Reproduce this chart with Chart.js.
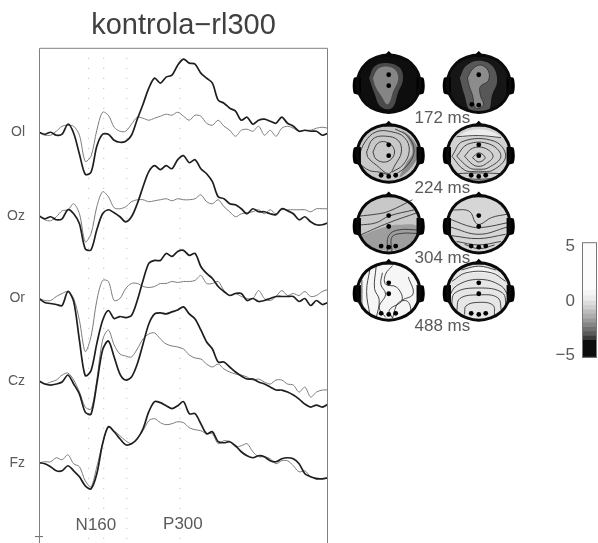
<!DOCTYPE html>
<html>
<head>
<meta charset="utf-8">
<title>kontrola-rl300</title>
<script src="https://cdn.jsdelivr.net/npm/chart.js@4/dist/chart.umd.min.js"></script>
<style>
  html, body { margin: 0; padding: 0; background: #fff; }
  #page { position: relative; width: 598px; height: 543px; overflow: hidden; }
  canvas { position: absolute; filter: blur(0.5px); }
</style>
</head>
<body>
<div id="page">
  <canvas id="wavesChart" width="335" height="566" style="left:0;top:0"></canvas>
  <canvas id="headsChart" width="190" height="310" style="left:340px;top:40px"></canvas>
  <canvas id="barChart" width="58" height="150" style="left:540px;top:225px"></canvas>
</div>
<script>
// time axis in ms
const times = [0,20,40,60,80,100,120,140,160,180,200,220,240,260,280,300,320,340,360,380,400,420,440,460,480,500,520,540,560,580,600,620,640,660,680,700,720,740,760,780,800,820,840,860,880,900,920,940,960,980,1000];
const channelNames = ['Ol','Oz','Or','Cz','Fz'];
const channelLevels = [410.7,327.3,244.7,162.3,80.7];
const markerTimes = [172,224,304,488];

// dark = thick trace, light = thin trace
const olDark = [0,-2,0,-3,-2,8,-1,-22,-42,-40,-14,-2,-2,-8,-10,-9,-3,13,28,44,54,49,55,57,67,73,69,68,59,54,49,32,29,24,21,12,15,8,12,13,11,9,15,9,6,1,2,1,1,-3,-1];
const olLight = [0,-3,-3,1,6,7,6,-3,-29,-24,2,20,17,5,1,1,8,15,14,12,14,16,18,17,20,16,12,17,16,9,7,12,6,2,-4,2,3,1,6,-3,2,-4,4,6,4,1,2,2,4,5,4];
const ozDark = [0,-3,-1,-4,-3,6,2,-8,-33,-34,-14,2,6,3,-1,-6,-1,12,29,44,50,46,50,47,56,60,53,56,47,42,34,19,17,12,11,7,2,7,4,4,2,1,7,5,2,-4,-1,-6,-9,-9,-7];
const ozLight = [0,-4,-5,-1,5,6,12,2,-26,-18,9,24,19,8,7,9,14,16,16,14,15,16,17,15,17,16,16,17,21,14,12,16,9,4,-1,2,3,4,6,2,6,2,6,6,6,6,6,4,7,7,7];
const orDark = [0,-4,-5,-6,-7,7,-3,-42,-77,-72,-45,-22,-12,-20,-18,-19,-17,-2,18,35,38,38,45,42,47,48,43,45,32,25,20,12,7,3,5,5,-2,0,-3,-2,0,2,2,2,2,-3,0,-7,-2,-6,-4];
const orLight = [0,-2,-2,2,5,7,0,-22,-53,-38,-2,18,17,-2,0,10,15,15,12,11,12,15,15,17,16,17,17,18,23,15,15,17,8,3,5,2,0,0,8,0,-2,2,8,3,5,3,7,2,3,7,9];
const czDark = [0,-3,-4,-3,-1,6,-3,-13,-31,-33,-3,31,40,24,7,1,4,17,37,57,67,68,67,69,71,74,67,62,51,39,32,19,19,14,9,5,2,2,-1,-3,-6,-9,-9,-11,-14,-18,-23,-26,-24,-26,-23];
const czLight = [1,-3,-1,1,6,8,1,-11,-26,-28,1,41,51,36,27,25,24,32,42,47,48,42,37,35,34,32,26,23,22,17,14,17,12,9,7,6,4,1,2,-1,-3,1,1,-3,-4,-11,-6,-16,-11,-9,-9];
const fzDark = [0,-1,-4,-8,-8,-3,-8,-14,-23,-26,-11,19,36,31,24,18,19,24,34,51,61,60,57,54,57,61,49,49,39,29,31,21,20,21,17,11,7,5,7,6,2,1,4,5,4,-1,-11,-14,-16,-16,-15];
const fzLight = [0,1,1,5,3,8,-1,-4,-18,-24,-4,19,36,32,27,22,19,24,32,42,44,40,38,39,41,40,35,33,32,29,29,19,22,21,16,17,19,11,6,6,4,-1,2,2,-3,-9,-8,-14,-15,-16,-15];

const darkTraces = [olDark,ozDark,orDark,czDark,fzDark];
const lightTraces = [olLight,ozLight,orLight,czLight,fzLight];

// colour bar
const barEdges = [-5.2,-3.6,-3.2,-2.8,-2.4,-2,-1.6,-1.2,-0.8,-0.4,0,0.5,1,5.4];
const barGrays = ['#0c0c0c','#3a3a3a','#5a5a5a','#707070','#858585','#999','#adadad','#bcbcbc','#cfcfcf','#dcdcdc','#ebebeb','#f5f5f5','#fcfcfc'];
const barTicks = [-5,0,5];

// scalp maps, coordinates are in head units (-1..1)
const timeLabels = ['172 ms','224 ms','304 ms','488 ms'];
const headRing = [[1,0],[.92,.38],[.71,.71],[.38,.92],[0,1],[-.38,.92],[-.71,.71],[-.92,.38],[-1,0],[-.92,-.38],[-.71,-.71],[-.38,-.92],[0,-1],[.38,-.92],[.71,-.71],[.92,-.38],[1,0]];
const earRight = [[.88,.22],[1.1,.2],[1.14,-.08],[1.1,-.34],[.88,-.4]];
const earLeft = [[-.88,.22],[-1.1,.2],[-1.14,-.08],[-1.1,-.34],[-.88,-.4]];
const nose = [[-.18,.94],[0,1.14],[.18,.94]];

const dotsAll = [[0,.3],[0,-.08],[-.24,-.76],[0,-.8],[.22,-.76]];
const headDots = [
  [[0,.31],[0,-.07]],
  [[0,.31],[-.22,-.72],[0,-.75]],
  dotsAll, dotsAll, dotsAll, dotsAll, dotsAll, dotsAll
];

const headBases = ['#0e0e0e','#161616','#c8c8c8','#d2d2d2','#c8c8c8','#d6d6d6','#f6f6f6','#e6e6e6'];

const headPatches = [
  [['#4a4a4a',[[-.62,.2],[-.45,.6],[-.05,.72],[.35,.55],[.45,.15],[.3,-.3],[.1,-.85],[-.25,-.8],[-.45,-.35],[-.62,.2]]],
   ['#858585',[[-.5,.2],[-.35,.5],[-.1,.6],[.2,.48],[.3,.15],[.15,-.25],[-.03,-.72],[-.25,-.4],[-.42,-.1],[-.5,.2]]]],
  [['#575757',[[-.6,.2],[-.4,.62],[0,.8],[.42,.62],[.58,.1],[.42,-.4],[.28,-.95],[-.25,-.95],[-.45,-.4],[-.6,.2]]],
   ['#8c8c8c',[[-.36,.2],[-.2,.5],[.05,.65],[.3,.45],[.3,.1],[.05,-.1],[.05,-.4],[.15,-.75],[-.1,-.85],[-.2,-.4],[-.3,-.1],[-.36,.2]]]],
  [['#8a8a8a',[[.4,.82],[.75,.5],[.93,.05],[.75,-.45],[.35,-.82],[.55,-.35],[.75,.05],[.62,.5],[.4,.82]]]],
  [['#ececec',[[-.7,.55],[-.3,.8],[.3,.8],[.7,.55],[0,.6],[-.7,.55]]]],
  [['#9e9e9e',[[-.93,-.42],[-.2,-.12],[.3,-.02],[.93,-.08],[.78,-.55],[.35,-.86],[-.35,-.86],[-.78,-.58],[-.93,-.42]]]],
  [],
  [],
  [['#f4f4f4',[[-.6,.6],[0,.85],[.6,.6],[0,.65],[-.6,.6]]]]
];

const headLines = [
  [],
  [[[-.36,.2],[-.2,.5],[.05,.65],[.3,.45],[.3,.1],[.05,-.1],[.05,-.4],[.15,-.75],[-.1,-.85],[-.2,-.4],[-.3,-.1],[-.36,.2]]],
  [[[-.5,.05],[-.35,.35],[-.1,.4],[.15,.2],[.15,-.1],[-.1,-.3],[-.4,-.2],[-.5,.05]],
   [[-.7,.05],[-.5,.5],[-.1,.6],[.3,.45],[.4,.05],[.2,-.4],[0,-.7],[-.4,-.4],[-.65,-.15],[-.7,.05]],
   [[-.95,-.1],[-.75,.4],[-.4,.75],[.1,.75],[.5,.55],[.65,.1],[.45,-.4],[.1,-.65]],
   [[.2,.85],[.6,.6],[.8,.1],[.6,-.4],[.2,-.75]],
   [[-.95,-.35],[-.6,-.6],[-.3,-.65],[0,-.75]]],
  [[[-.2,-.15],[0,.02],[.2,-.15],[0,-.3],[-.2,-.15]],
   [[-.45,-.1],[-.2,.18],[.2,.18],[.45,-.1],[.2,-.38],[0,-.45],[-.2,-.38],[-.45,-.1]],
   [[-.7,-.1],[-.35,.32],[.35,.32],[.7,-.1],[.3,-.5],[0,-.55],[-.3,-.5],[-.7,-.1]],
   [[-.85,-.1],[-.5,.42],[.5,.42],[.85,-.1],[.45,-.58],[0,-.62],[-.45,-.58],[-.85,-.1]],
   [[-.7,.58],[0,.62],[.7,.55]],
   [[-.65,-.7],[0,-.68],[.65,-.7]],
   [[-.4,-.88],[0,-.9],[.4,-.88]]],
  [[[-.95,.28],[-.4,.35],[0,.45],[.75,.85]],
   [[-.95,-.03],[-.4,.05],[0,.28],[.8,.5]],
   [[-.95,-.4],[0,.05],[.9,.4]],
   [[-.05,-.95],[0,-.4],[.3,-.2],[.95,-.2]],
   [[.1,-.95],[.1,-.45],[.4,-.32],[.9,-.32]]],
  [[[-.85,.5],[-.3,.45],[-.1,.05],[.05,0],[.4,.23],[.9,.35]],
   [[-.9,.17],[-.2,-.1],[.2,-.1],[.9,.05]],
   [[-.9,-.1],[0,-.35],[.9,-.1]],
   [[-.85,-.4],[0,-.5],[.85,-.35]],
   [[-.7,-.6],[0,-.72],[.7,-.6]],
   [[-.45,-.7],[0,-.85],[.5,-.72]]],
  [[[-.85,.4],[-.85,-.6]],
   [[-.6,.75],[-.7,0],[-.6,-.8]],
   [[-.4,.85],[-.45,.1],[-.3,-.3],[-.4,-.95]],
   [[-.2,.65],[-.25,.25],[-.1,-.1],[-.3,-.55],[-.1,-.9]],
   [[.12,.9],[-.1,.6],[-.1,.25],[.25,.15],[.42,-.3],[.02,-.65],[.12,-.93]],
   [[.62,.5],[.77,-.08],[.42,-.3]],
   [[.12,-.93],[.3,-.4],[.6,-.35],[.67,-.75],[.3,-.95]]],
  [[[-.45,-.8],[-.4,-.5],[0,-.38],[.45,-.48],[.5,-.85]],
   [[-.7,-.7],[-.6,-.25],[0,-.12],[.6,-.22],[.72,-.7]],
   [[-.87,-.55],[-.75,-.05],[0,.12],[.75,-.05],[.87,-.55]],
   [[-.95,-.2],[-.7,.2],[0,.42],[.7,.2],[.95,-.2]],
   [[-.85,.35],[-.4,.65],[.4,.65],[.85,.35]],
   [[-.55,.75],[0,.88],[.55,.75]]]
];

// head centres inside the second canvas
const headColumns = [46.7,140.7];
const headRows = [40.7,112.3,185,254];

function frameOnly(colors) {
    // top, left, right edges of the plot area
    return {
        id: 'frame',
        afterDraw(chart) {
            const {ctx, chartArea: a} = chart;
            ctx.save();
            ctx.strokeStyle = colors;
            ctx.lineWidth = 1;
            ctx.beginPath();
            ctx.moveTo(a.left + 0.5, a.bottom);
            ctx.lineTo(a.left + 0.5, a.top + 0.5);
            ctx.lineTo(a.right - 0.5, a.top + 0.5);
            ctx.lineTo(a.right - 0.5, a.bottom);
            ctx.stroke();
            ctx.restore();
        }
    };
}

// Waveforms
const waveDatasets = [];
channelNames.forEach((name, i) => {
    waveDatasets.push({
        label: name + ' dark',
        data: darkTraces[i].map((v, k) => ({x: times[k], y: channelLevels[i] + v})),
        borderColor: '#1e1e1e',
        borderWidth: 1.7,
        order: 1
    });
    waveDatasets.push({
        label: name + ' light',
        data: lightTraces[i].map((v, k) => ({x: times[k], y: channelLevels[i] + v})),
        borderColor: '#7c7c7c',
        borderWidth: 1,
        order: 2
    });
});
markerTimes.forEach(t => {
    waveDatasets.push({
        label: t + ' ms',
        data: [{x: t, y: 485}, {x: t, y: 0}],
        borderColor: '#b5b5b5',
        borderWidth: 1,
        borderDash: [1, 9],
        tension: 0,
        order: 3
    });
});
waveDatasets.push({
    label: 'origin',
    data: [{x: -14, y: 7}, {x: 14, y: 7}],
    borderColor: '#666',
    borderWidth: 1,
    tension: 0,
    clip: false,
    order: 3
});

const waveLabels = {
    id: 'waveLabels',
    afterDraw(chart) {
        const {ctx, scales} = chart;
        ctx.save();
        ctx.fillStyle = '#5a5a5a';
        ctx.font = '17px "Liberation Sans", Arial, sans-serif';
        ctx.textAlign = 'center';
        ctx.textBaseline = 'middle';
        ctx.fillText('N160', scales.x.getPixelForValue(197), scales.y.getPixelForValue(18));
        ctx.fillText('P300', scales.x.getPixelForValue(498), scales.y.getPixelForValue(19));
        ctx.restore();
    }
};

new Chart(document.getElementById('wavesChart').getContext('2d'), {
    type: 'line',
    data: {datasets: waveDatasets},
    options: {
        responsive: false,
        animation: false,
        events: [],
        layout: {padding: {right: 7}},
        elements: {point: {radius: 0}, line: {tension: 0.3, fill: false}},
        plugins: {
            legend: {display: false},
            tooltip: {enabled: false},
            title: {
                display: true,
                text: 'kontrola\u2212rl300',
                fullSize: false,
                color: '#404040',
                font: {family: '"Liberation Sans", Arial, sans-serif', size: 29, weight: 'normal', lineHeight: 1.2},
                padding: {top: 9, bottom: 4}
            }
        },
        scales: {
            x: {type: 'linear', min: 0, max: 1000, display: false},
            y: {
                type: 'linear',
                min: 0,
                max: 495,
                grid: {display: false, drawTicks: false},
                border: {display: false},
                afterFit(scale) { scale.width = 39; },
                afterBuildTicks(scale) { scale.ticks = channelLevels.map(value => ({value})); },
                ticks: {
                    autoSkip: false,
                    padding: 14,
                    color: '#5a5a5a',
                    font: {family: '"Liberation Sans", Arial, sans-serif', size: 14},
                    callback: (value, index) => channelNames[index]
                }
            }
        }
    },
    plugins: [frameOnly('#808080'), waveLabels]
});

// Scalp maps
const RX = 33, RY = 29.5;
const headLayers = [];
function shape(cx, cy, pts, extra) {
    headLayers.push(Object.assign({
        data: pts.map(p => ({x: cx + p[0] * RX, y: cy - p[1] * RY})),
        borderWidth: 0,
        borderColor: 'transparent',
        tension: 0.4
    }, extra));
}
headRows.forEach((cy, row) => {
    headColumns.forEach((cx, col) => {
        const h = row * 2 + col;
        shape(cx, cy, headRing, {fill: 'shape', backgroundColor: headBases[h]});
        headPatches[h].forEach(p => shape(cx, cy, p[1], {fill: 'shape', backgroundColor: p[0]}));
        headLines[h].forEach(l => shape(cx, cy, l, {borderColor: '#333', borderWidth: 0.9}));
        shape(cx, cy, earRight, {fill: 'shape', backgroundColor: '#000', tension: 0.2});
        shape(cx, cy, earLeft, {fill: 'shape', backgroundColor: '#000', tension: 0.2});
        shape(cx, cy, nose, {fill: 'shape', backgroundColor: '#000', tension: 0});
        shape(cx, cy, headRing, {borderColor: '#0a0a0a', borderWidth: 3});
        shape(cx, cy, headDots[h], {showLine: false, pointRadius: 2.4, pointBackgroundColor: '#000', pointBorderWidth: 0});
    });
});

const headTimeLabels = {
    id: 'headTimeLabels',
    afterDraw(chart) {
        const {ctx, scales} = chart;
        ctx.save();
        ctx.fillStyle = '#5a5a5a';
        ctx.font = '17px "Liberation Sans", Arial, sans-serif';
        ctx.textAlign = 'center';
        ctx.textBaseline = 'middle';
        timeLabels.forEach((label, i) => {
            ctx.fillText(label, scales.x.getPixelForValue(102.7), scales.y.getPixelForValue(headRows[i] + 35.5));
        });
        ctx.restore();
    }
};

new Chart(document.getElementById('headsChart').getContext('2d'), {
    type: 'line',
    data: {datasets: headLayers.reverse()},
    options: {
        responsive: false,
        animation: false,
        events: [],
        elements: {point: {radius: 0}},
        plugins: {legend: {display: false}, tooltip: {enabled: false}},
        scales: {
            x: {type: 'linear', min: 0, max: 190, display: false},
            y: {type: 'linear', min: 0, max: 310, reverse: true, display: false}
        }
    },
    plugins: [headTimeLabels]
});

// Colour bar
const barDatasets = barGrays.map((c, i) => ({
    data: [[barEdges[i], barEdges[i + 1]]],
    backgroundColor: c,
    borderWidth: 0,
    barPercentage: 1,
    categoryPercentage: 1
}));
new Chart(document.getElementById('barChart').getContext('2d'), {
    type: 'bar',
    data: {labels: ['scale'], datasets: barDatasets},
    options: {
        responsive: false,
        animation: false,
        events: [],
        layout: {padding: {top: 10, bottom: 12, right: 1}},
        plugins: {legend: {display: false}, tooltip: {enabled: false}},
        scales: {
            x: {display: false, stacked: true},
            y: {
                min: -5.2,
                max: 5.4,
                grid: {display: false, drawTicks: false},
                border: {display: false},
                afterFit(scale) { scale.width = 42; },
                afterBuildTicks(scale) { scale.ticks = barTicks.map(value => ({value})); },
                ticks: {
                    padding: 7,
                    color: '#5a5a5a',
                    font: {family: '"Liberation Sans", Arial, sans-serif', size: 17},
                    callback: value => (value < 0 ? '\u2212' + Math.abs(value) : String(value))
                }
            }
        }
    },
    plugins: [{
        id: 'barFrame',
        afterDraw(chart) {
            const {ctx, chartArea: a} = chart;
            ctx.save();
            ctx.strokeStyle = '#777';
            ctx.strokeRect(a.left + 0.5, a.top + 0.5, a.width - 1, a.height - 1);
            ctx.restore();
        }
    }]
});
</script>
</body>
</html>
